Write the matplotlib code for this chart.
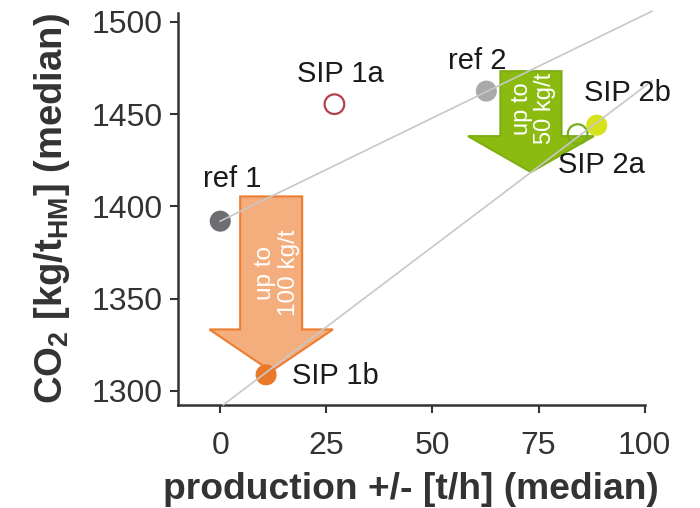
import matplotlib
matplotlib.use("Agg")
import matplotlib.pyplot as plt
from matplotlib.patches import FancyArrow

plt.rcParams['font.family'] = ['Liberation Sans', 'DejaVu Sans']
plt.rcParams['mathtext.fontset'] = 'custom'
plt.rcParams['mathtext.rm'] = 'Liberation Sans:bold'
plt.rcParams['mathtext.bf'] = 'Liberation Sans:bold'

# data
names = ["ref 1", "ref 2", "SIP 1a", "SIP 1b", "SIP 2a", "SIP 2b"]
prod = [0, 62.7, 26.9, 10.8, 84.2, 88.7]
co2 = [1392, 1462.5, 1455.4, 1308.7, 1439.2, 1444]
filled = [True, True, False, True, False, True]
colors = ["#6d6e71", "#a9aaac", "#b3404f", "#ea7a2a", "#79ad1c", "#d6e21c"]

# guide lines
line1_x = [0, 101.7]
line1_y = [1392, 1505.8]
line2_x = [0.7, 101.7]
line2_y = [1292.4, 1468]

fig = plt.figure(figsize=(7, 5.08), dpi=100)
ax = fig.add_axes([0.254, 0.203, 0.667, 0.772])

# arrows
ax.add_patch(FancyArrow(12, 1405.4, 0, -94.8, width=14.6, head_width=29.1,
                        head_length=22.7, length_includes_head=True,
                        facecolor="#f4ae7e", edgecolor="#ed7d31", lw=1.5, zorder=2))
ax.text(13.3, 1364, "up to\n100 kg/t", rotation=90, color="white", fontsize=17.5,
        ha="center", va="center", linespacing=1.1, zorder=3)
ax.add_patch(FancyArrow(73.2, 1473.3, 0, -54.7, width=14.4, head_width=29.7,
                        head_length=19.5, length_includes_head=True,
                        facecolor="#8bbb10", edgecolor="#7fae12", lw=1.5, zorder=2))
ax.text(73.8, 1453, "up to\n50 kg/t", rotation=90, color="white", fontsize=17,
        ha="center", va="center", linespacing=1.1, zorder=3)

for x, y, f, c in zip(prod, co2, filled, colors):
    if f:
        ax.scatter(x, y, s=230, color=c, edgecolor="none", zorder=4)
    else:
        ax.scatter(x, y, s=200, facecolor="none", edgecolor=c, lw=1.6, zorder=4)

ax.plot(line1_x, line1_y, color="#c8c8c8", lw=1.2, zorder=5, clip_on=False)
ax.plot(line2_x, line2_y, color="#c8c8c8", lw=1.2, zorder=5, clip_on=False)

# point labels
label_pos = {"ref 1": (2.8, 1414.6), "ref 2": (60.6, 1478.7), "SIP 1a": (28.3, 1472),
             "SIP 1b": (27.1, 1308), "SIP 2a": (89.9, 1422.4), "SIP 2b": (96, 1461.4)}
for n in names:
    ax.text(*label_pos[n], n, fontsize=21, ha="center", va="center", color="#1a1a1a", zorder=6)

ax.set_xlim(-10, 100)
ax.set_ylim(1292.4, 1505)
ax.set_xticks([0, 25, 50, 75, 100])
ax.set_yticks([1300, 1350, 1400, 1450, 1500])
for s in ["top", "right"]:
    ax.spines[s].set_visible(False)
for s in ["left", "bottom"]:
    ax.spines[s].set_linewidth(1.8)
    ax.spines[s].set_color("#333333")
ax.tick_params(direction="out", length=6, width=1.5, color="#333333",
               labelsize=23, labelcolor="#333333")
ax.tick_params(axis="x", pad=12.5)
ax.tick_params(axis="y", pad=5)
ax.set_xlabel("production +/- [t/h] (median)", fontsize=26.8, fontweight="bold",
              color="#333333", labelpad=8)
ax.set_ylabel(r"CO$_\mathbf{2}$ [kg/t$_\mathbf{HM}$] (median)", fontsize=27.5,
              fontweight="bold", color="#333333", labelpad=14)

fig.savefig("out.png", dpi=100)
